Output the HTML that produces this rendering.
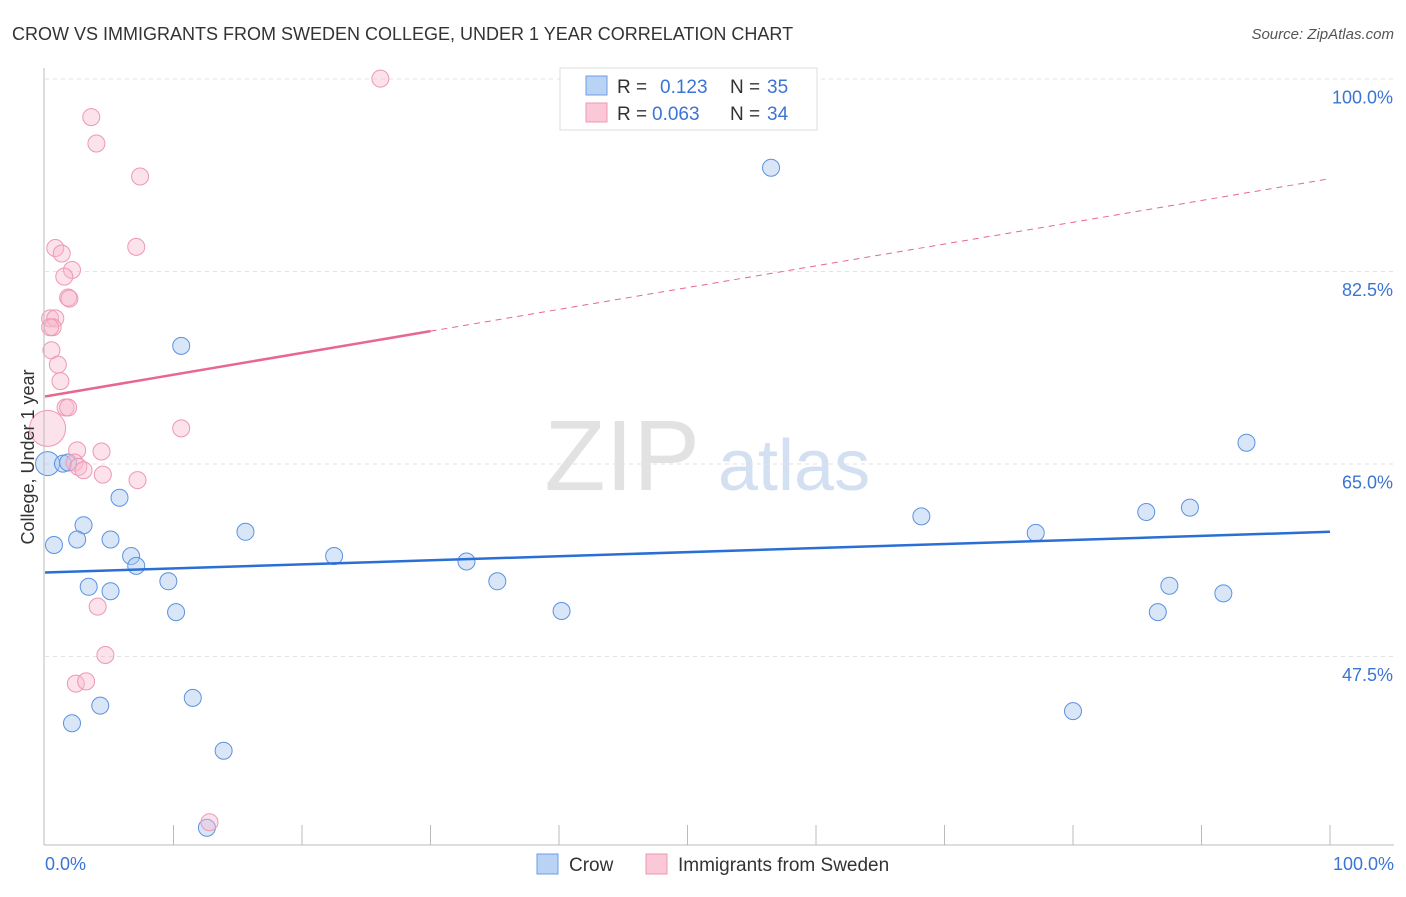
<!DOCTYPE html>
<html><head><meta charset="utf-8"><style>
body{margin:0;background:#fff;font-family:"Liberation Sans",sans-serif;}
svg text{font-family:"Liberation Sans",sans-serif;}
</style></head><body>
<svg id="c" width="1406" height="892">
<text x="12" y="40" font-size="18" fill="#333">CROW VS IMMIGRANTS FROM SWEDEN COLLEGE, UNDER 1 YEAR CORRELATION CHART</text>
<text x="1394" y="39" font-size="15" fill="#555" font-style="italic" text-anchor="end">Source: ZipAtlas.com</text>
<text x="700" y="490" font-size="100" fill="#e2e2e2" text-anchor="end" font-family="Liberation Serif">ZIP</text>
<text x="718" y="490" font-size="72" fill="#d3e0f1">atlas</text>
<g id="grid"></g><g id="marks"></g>
<line x1="44" y1="68" x2="44" y2="845" stroke="#bbb"/>
<line x1="44" y1="845" x2="1394" y2="845" stroke="#bbb"/>
<text transform="translate(34,457) rotate(-90)" font-size="18" fill="#333" text-anchor="middle">College, Under 1 year</text>
<text x="45" y="870" font-size="18" fill="#3b74d4">0.0%</text>
<text x="1394" y="870" font-size="18" fill="#3b74d4" text-anchor="end">100.0%</text>
<g>
<rect x="560" y="68" width="257" height="62" fill="#fff" stroke="#ddd"/>
<rect x="586" y="76" width="21" height="19" fill="#b9d3f5" stroke="#6d9ee6"/>
<rect x="586" y="103" width="21" height="19" fill="#fac8d6" stroke="#ee98b2"/>
<text x="617" y="93" font-size="19" fill="#333">R = </text><text x="660" y="93" font-size="19" fill="#3b74d4">0.123</text>
<text x="730" y="93" font-size="19" fill="#333">N = </text><text x="767" y="93" font-size="19" fill="#3b74d4">35</text>
<text x="617" y="120" font-size="19" fill="#333">R = </text><text x="652" y="120" font-size="19" fill="#3b74d4">0.063</text>
<text x="730" y="120" font-size="19" fill="#333">N = </text><text x="767" y="120" font-size="19" fill="#3b74d4">34</text>
</g>
<g>
<rect x="537" y="854" width="21" height="20" fill="#b9d3f5" stroke="#6d9ee6"/>
<text x="569" y="871" font-size="19" fill="#333">Crow</text>
<rect x="646" y="854" width="21" height="20" fill="#fac8d6" stroke="#ee98b2"/>
<text x="678" y="871" font-size="19" fill="#333">Immigrants from Sweden</text>
</g>
</svg>
<script>
const yTicks=[100,82.5,65,47.5];
const yTickLabels=["100.0%","82.5%","65.0%","47.5%"];
const crowX=[0.2,1.4,1.8,0.7,3.0,2.5,5.1,5.8,6.7,7.1,3.4,5.1,9.6,10.2,10.6,15.6,22.5,32.8,35.2,40.2,56.5,68.2,77.1,85.7,89.1,87.5,86.6,91.7,93.5,80.0,2.1,4.3,11.5,13.9,12.6];
const crowY=[64.9,64.9,65.0,57.5,59.3,58.0,58.0,61.8,56.5,55.6,53.7,53.3,54.2,51.4,75.6,58.7,56.5,56.0,54.2,51.5,91.8,60.1,58.6,60.5,60.9,53.8,51.4,53.1,66.8,42.4,41.3,42.9,43.6,38.8,31.8];
const swedX=[26.1,3.6,4.0,7.4,0.8,7.1,1.3,2.1,1.5,1.8,1.9,0.4,0.8,0.6,0.4,0.5,1.0,1.2,1.6,1.8,0.2,10.6,2.5,4.4,2.3,2.6,3.0,4.5,7.2,4.1,4.7,2.4,3.2,12.8];
const swedY=[99.9,96.4,94.0,91.0,84.5,84.6,84.0,82.5,81.9,80.0,79.9,78.1,78.1,77.3,77.3,75.2,73.9,72.4,70.0,70.0,68.1,68.1,66.1,66.0,65.0,64.6,64.3,63.9,63.4,51.9,47.5,44.9,45.1,32.3];
const crowTrend=[55.0,58.7];
const swedTrend=[71.0,90.8];
const NS="http://www.w3.org/2000/svg";
const X=v=>45+v*12.85, Y=v=>77.5+(100-v)*11;
const grid=document.getElementById('grid'), marks=document.getElementById('marks');
function mk(p,tag,a){const e=document.createElementNS(NS,tag);for(const k in a)e.setAttribute(k,a[k]);p.appendChild(e);return e;}
yTicks.forEach((t,i)=>{
 const l=mk(grid,'line',{x1:45,x2:1394,y1:Y(t)+1.5,y2:Y(t)+1.5,stroke:'#e2e2e2','stroke-dasharray':'4,4'});
 
 
 const tx=mk(grid,'text',{x:1393,y:Y(t)+26,'font-size':18,fill:'#3b74d4','text-anchor':'end'});
 tx.textContent=yTickLabels[i];
 
 
});
for(let i=1;i<=10;i++){const l=mk(grid,'line',{x1:X(i*10),x2:X(i*10),y1:825,y2:845,stroke:'#bbb'});
 
 }
crowX.forEach((x,i)=>{const big=i===0;const c=mk(marks,'circle',{cx:X(x),cy:Y(crowY[i]),r:big?12:8.5,fill:'rgba(170,200,240,0.45)',stroke:'#5b92e0','stroke-width':1});
 
 });
swedX.forEach((x,i)=>{const big=i===20;const c=mk(marks,'circle',{cx:X(x),cy:Y(swedY[i]),r:big?18:8.5,fill:'rgba(248,185,205,0.4)',stroke:'#ee98b2','stroke-width':1});
 
 });
let l=mk(marks,'line',{x1:X(0),y1:Y(crowTrend[0]),x2:X(100),y2:Y(crowTrend[1]),stroke:'#2a6fd6','stroke-width':2.5});


const sy=x=>swedTrend[0]+(swedTrend[1]-swedTrend[0])*x/100;
l=mk(marks,'line',{x1:X(0),y1:Y(sy(0)),x2:X(30),y2:Y(sy(30)),stroke:'#e8678f','stroke-width':2.5});


l=mk(marks,'line',{x1:X(30),y1:Y(sy(30)),x2:X(100),y2:Y(sy(100)),stroke:'#e8678f','stroke-width':1,'stroke-dasharray':'6,5'});


</script>
</body></html>
